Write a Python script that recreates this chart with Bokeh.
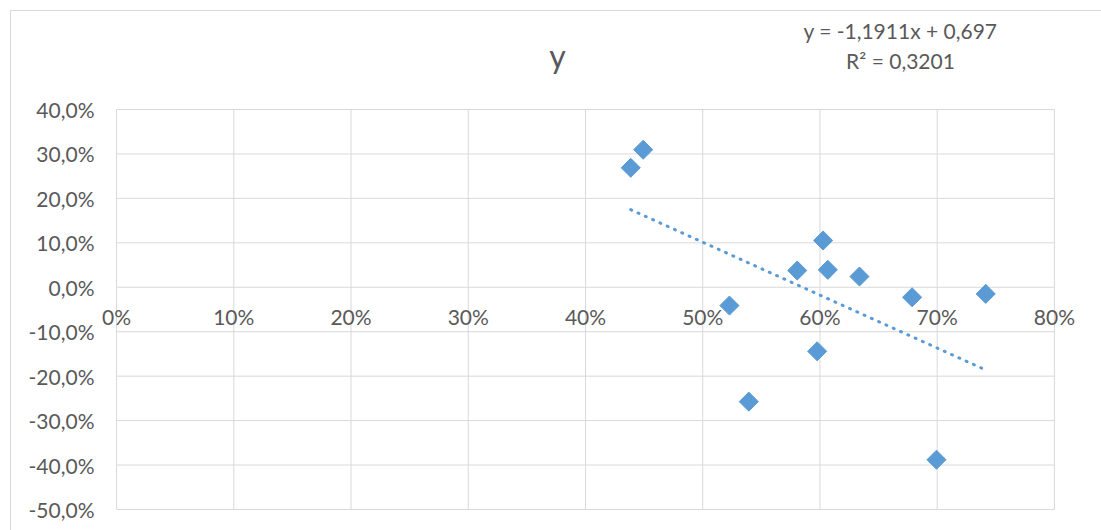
import numpy as np
from bokeh.plotting import figure
from bokeh.models import FixedTicker, Range1d
from bokeh.core.properties import value
from bokeh.embed import file_html
from bokeh.resources import INLINE

# Observations (share, change)
x_vals = [0.4386, 0.4492, 0.5228, 0.5393, 0.5806, 0.5976,
          0.6027, 0.6067, 0.6337, 0.6786, 0.6994, 0.7414]
y_vals = [0.2689, 0.3095, -0.0412, -0.2574, 0.0376, -0.1441,
          0.1052, 0.0392, 0.0241, -0.0225, -0.3881, -0.0149]

# Linear trend fitted to the observations
slope = -1.1911
intercept = 0.697
r_squared = 0.3201

x_ticks = [0.0, 0.1, 0.2, 0.3, 0.4, 0.5, 0.6, 0.7, 0.8]
x_labels = ["0%", "10%", "20%", "30%", "40%", "50%", "60%", "70%", "80%"]
y_ticks = [-0.5, -0.4, -0.3, -0.2, -0.1, 0.0, 0.1, 0.2, 0.3, 0.4]
y_labels = ["-50,0%", "-40,0%", "-30,0%", "-20,0%", "-10,0%",
            "0,0%", "10,0%", "20,0%", "30,0%", "40,0%"]

FONT = "Lato"
TEXT_COLOR = "#595959"
GRID_COLOR = "#d9d9d9"
SERIES_COLOR = "#5b9bd5"


def fmt(v, digits):
    return f"{v:.{digits}f}".replace(".", ",")


# The frame also holds the title and the equation above the plot area,
# so the ranges reach a little past the tick extents.
p = figure(
    width=1091, height=520,
    x_range=Range1d(-0.0171, 0.8410), y_range=Range1d(-0.5496, 0.6183),
    output_backend="svg", toolbar_location=None,
    min_border_left=85, min_border_right=0,
    min_border_top=1, min_border_bottom=0,
)
p.margin = (10, 0, 0, 10)
p.styles = {"border-left": f"1px solid {GRID_COLOR}",
            "border-top": f"1px solid {GRID_COLOR}"}
p.title.visible = False
p.outline_line_color = None
p.background_fill_color = "white"
p.border_fill_color = "white"

# Axes: only the vertical axis is drawn by the axis itself
p.xaxis.visible = False
p.xgrid.visible = False
p.ygrid.visible = False

yax = p.yaxis[0]
yax.ticker = FixedTicker(ticks=y_ticks)
yax.major_label_overrides = {t: lab for t, lab in zip(y_ticks, y_labels)}
yax.axis_line_color = None
yax.major_tick_line_color = None
yax.minor_tick_line_color = None
yax.major_tick_in = 0
yax.major_tick_out = 0
yax.major_label_standoff = 2
yax.major_label_text_font = FONT
yax.major_label_text_font_size = "21px"
yax.major_label_text_color = TEXT_COLOR

# Grid limited to the plotting area
y_lo, y_hi = y_ticks[0], y_ticks[-1]
x_lo, x_hi = x_ticks[0], x_ticks[-1]
p.segment(x0=x_ticks, y0=[y_lo] * len(x_ticks), x1=x_ticks, y1=[y_hi] * len(x_ticks),
          line_color=GRID_COLOR, line_width=1)
p.segment(x0=[x_lo] * len(y_ticks), y0=y_ticks, x1=[x_hi] * len(y_ticks), y1=y_ticks,
          line_color=GRID_COLOR, line_width=1)

# Horizontal axis labels sit just under the zero line
p.text(x=x_ticks, y=[0.0] * len(x_ticks), text=x_labels,
       text_font=value(FONT), text_font_size="21px", text_color=TEXT_COLOR,
       text_align="center", text_baseline="alphabetic", y_offset=29)

# Trend line over the observed x span
tx = np.array([min(x_vals), max(x_vals)])
p.line(tx, slope * tx + intercept, line_color=SERIES_COLOR, line_width=3,
       line_dash="1 7", line_cap="round")

# Observations as diamonds
p.scatter(x_vals, y_vals, marker="square", angle=np.pi / 4, size=13.5,
          fill_color=SERIES_COLOR, line_color=SERIES_COLOR)

# Chart title
p.text(x=[0.3761], y=[0.5224], text=["y"], text_font=value(FONT),
       text_font_size="32px", text_color=TEXT_COLOR,
       text_align="center", text_baseline="alphabetic")

# Trend equation and fit quality
eq_text = f"y = {fmt(slope, 4)}x + {fmt(intercept, 3)}"
r2_text = f"R² = {fmt(r_squared, 4)}"
p.text(x=[0.6687, 0.6687], y=[0.5778, 0.5103], text=[eq_text, r2_text],
       text_font=value(FONT), text_font_size="21px", text_color=TEXT_COLOR,
       text_align="center", text_baseline="alphabetic")

open("out.html", "w").write(file_html(p, INLINE))
